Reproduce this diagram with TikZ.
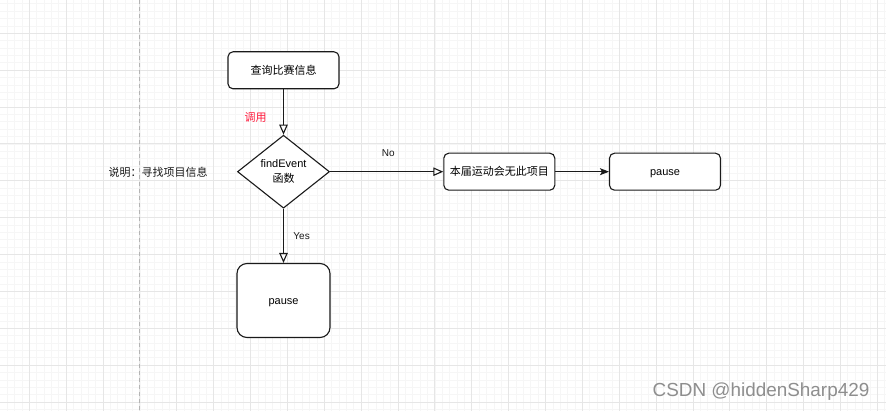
\documentclass[tikz,border=0pt]{standalone}
\usepackage{fontspec}
\setmainfont{Liberation Sans}
\newfontfamily\cjk{Noto Sans CJK SC}
\usetikzlibrary{arrows.meta,shapes.geometric}
\definecolor{gridmajor}{HTML}{E6E6E6}
\definecolor{gridminor}{HTML}{F6F6F6}
\definecolor{pagebreak}{HTML}{B4B4B4}
\definecolor{linecol}{HTML}{1A1A1A}
\definecolor{redtext}{HTML}{FF1A3C}
\definecolor{wmark}{HTML}{8E8E8E}
\tikzset{
  boxstyle/.style={draw=linecol, line width=1.1pt, rounded corners=5pt, fill=white,
    minimum width=111pt, minimum height=37pt, inner sep=0pt,
    text height=10pt, text depth=2.3pt,
    font=\fontsize{11}{13}\selectfont},
  bigbox/.style={boxstyle, rounded corners=10pt, minimum width=93pt, minimum height=74pt},
  decision/.style={draw=linecol, line width=1.1pt, diamond, aspect=1.26, fill=white,
    minimum width=92pt, minimum height=73pt, inner sep=0pt, align=center,
    font=\fontsize{11}{15}\selectfont},
  conn/.style={draw=linecol, line width=1.1pt},
  openarrow/.style={conn, -{Triangle[open, length=10pt, width=8.5pt]}},
  fullarrow/.style={conn, -{Stealth[length=9pt, width=7pt, inset=2pt]}},
  edgelabel/.style={font=\fontsize{10}{12}\selectfont, text=linecol, inner sep=0pt},
  notelabel/.style={font=\fontsize{11}{13}\selectfont\cjk, inner sep=0pt}
}
\begin{document}
\begin{tikzpicture}[x=1pt, y=-1pt]
\useasboundingbox (0,0) rectangle (886,411);
\fill[white] (0,0) rectangle (886,411);
% minor grid
\foreach \i in {0,...,120} {
  \pgfmathsetmacro{\xx}{7.18+7.374*\i}
  \ifdim \xx pt<886pt \draw[gridminor, line width=0.7pt] (\xx,0) -- (\xx,411); \fi
}
\foreach \i in {0,...,56} {
  \pgfmathsetmacro{\yy}{3.8+7.374*\i}
  \ifdim \yy pt<411pt \draw[gridminor, line width=0.7pt] (0,\yy) -- (886,\yy); \fi
}
% major grid
\foreach \i in {0,...,23} {
  \pgfmathsetmacro{\xx}{29.3+36.87*\i}
  \draw[gridmajor, line width=0.9pt] (\xx,0) -- (\xx,411);
}
\foreach \i in {0,...,10} {
  \pgfmathsetmacro{\yy}{33.3+36.87*\i}
  \draw[gridmajor, line width=0.9pt] (0,\yy) -- (886,\yy);
}
% page break line
\draw[pagebreak, line width=0.9pt, dash pattern=on 4pt off 3pt] (139.9,0) -- (139.9,411);

% nodes
\node[boxstyle] (q) at (283.5,70.3) {\cjk 查询比赛信息};
\node[decision] (d) at (283.5,171.7) {findEvent\\{\cjk 函数}};
\node[boxstyle] (n) at (499.3,171.7) {\cjk 本届运动会无此项目};
\node[boxstyle] (p1) at (665,171.7) {pause};
\node[bigbox] (p2) at (283.5,300.5) {pause};

% labels
\node[notelabel, text=redtext] (call) at (255.5,117) {调用};
\node[notelabel, text=linecol] (note) at (158,172) {说明：寻找项目信息};
\node[edgelabel] (no) at (388.3,153) {No};
\node[edgelabel] (yes) at (301.6,236) {Yes};

% connectors
\draw[openarrow] (q) -- (d);
\draw[openarrow] (d) -- (n);
\draw[fullarrow] (n) -- (p1);
\draw[openarrow] (d) -- (p2);

% watermark
\node[font=\fontsize{18.9}{22}\selectfont, text=wmark, inner sep=0pt] (wm) at (761,392) {CSDN @hiddenSharp429};
\end{tikzpicture}
\end{document}
